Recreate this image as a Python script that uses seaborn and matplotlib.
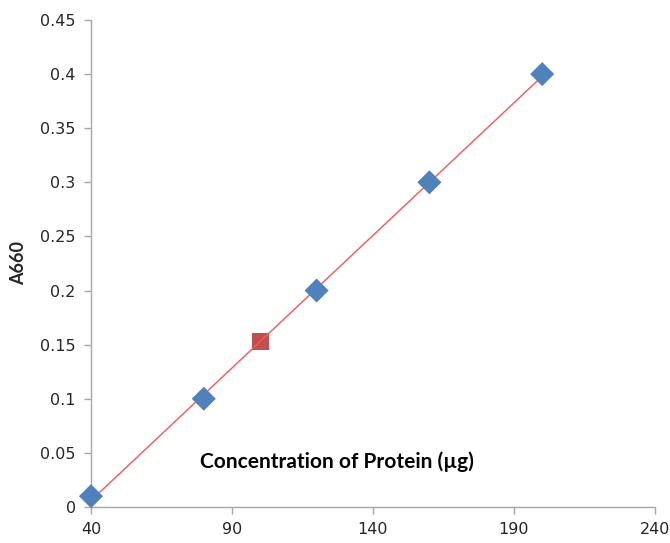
import numpy as np
import pandas as pd
import seaborn as sns
import matplotlib
import matplotlib.pyplot as plt

matplotlib.use('Agg')

# standards
conc = [40, 80, 120, 160, 200]
absorb = [0.01, 0.1, 0.2, 0.3, 0.4]
# unknown sample
unk_conc = [100]
unk_abs = [0.153]

df = pd.DataFrame({'conc': conc, 'A660': absorb})
df_unk = pd.DataFrame({'conc': unk_conc, 'A660': unk_abs})

sns.set_style('white')
plt.rcParams['font.family'] = ['DejaVu Sans']

fig = plt.figure(figsize=(6.7, 5.43), dpi=100)
ax = fig.add_axes([0.1358, 0.0663, 0.8418, 0.8969])

sns.scatterplot(data=df_unk, x='conc', y='A660', marker='s', s=150,
                color='#C0504D', edgecolor='none', ax=ax, zorder=1)
sns.regplot(data=df, x='conc', y='A660', scatter=False, ci=None, ax=ax,
            line_kws={'color': '#FF5555', 'lw': 1.0, 'zorder': 2})
sns.scatterplot(data=df, x='conc', y='A660', marker='D', s=150,
                color='#4F81BD', edgecolor='none', ax=ax, zorder=3,
                clip_on=False)

ax.set_xlim(40, 240)
ax.set_ylim(0, 0.45)
ax.set_xticks([40, 90, 140, 190, 240])
ax.set_yticks(np.arange(0, 0.451, 0.05))
ax.set_yticklabels(['0', '0.05', '0.1', '0.15', '0.2', '0.25', '0.3', '0.35', '0.4', '0.45'])
ax.tick_params(axis='both', labelsize=11.5, colors='#262626', length=5,
               width=1, direction='out', pad=6)
ax.tick_params(axis='both', color='#A6A6A6')
ax.xaxis.set_ticks_position('bottom')
ax.yaxis.set_ticks_position('left')

for side in ['top', 'right']:
    ax.spines[side].set_visible(False)
for side in ['left', 'bottom']:
    ax.spines[side].set_color('#A6A6A6')
    ax.spines[side].set_linewidth(1)

ax.set_xlabel('')
ax.set_ylabel('A660', fontsize=13, fontweight='bold', family=['Lato', 'DejaVu Sans'],
              labelpad=9)
ax.text(0.436, 0.094, 'Concentration of Protein (µg)', transform=ax.transAxes,
        ha='center', va='center', fontsize=15, fontweight='bold',
        family=['Lato', 'DejaVu Sans'], color='black')

plt.savefig('out.png', dpi=100)
plt.close()
